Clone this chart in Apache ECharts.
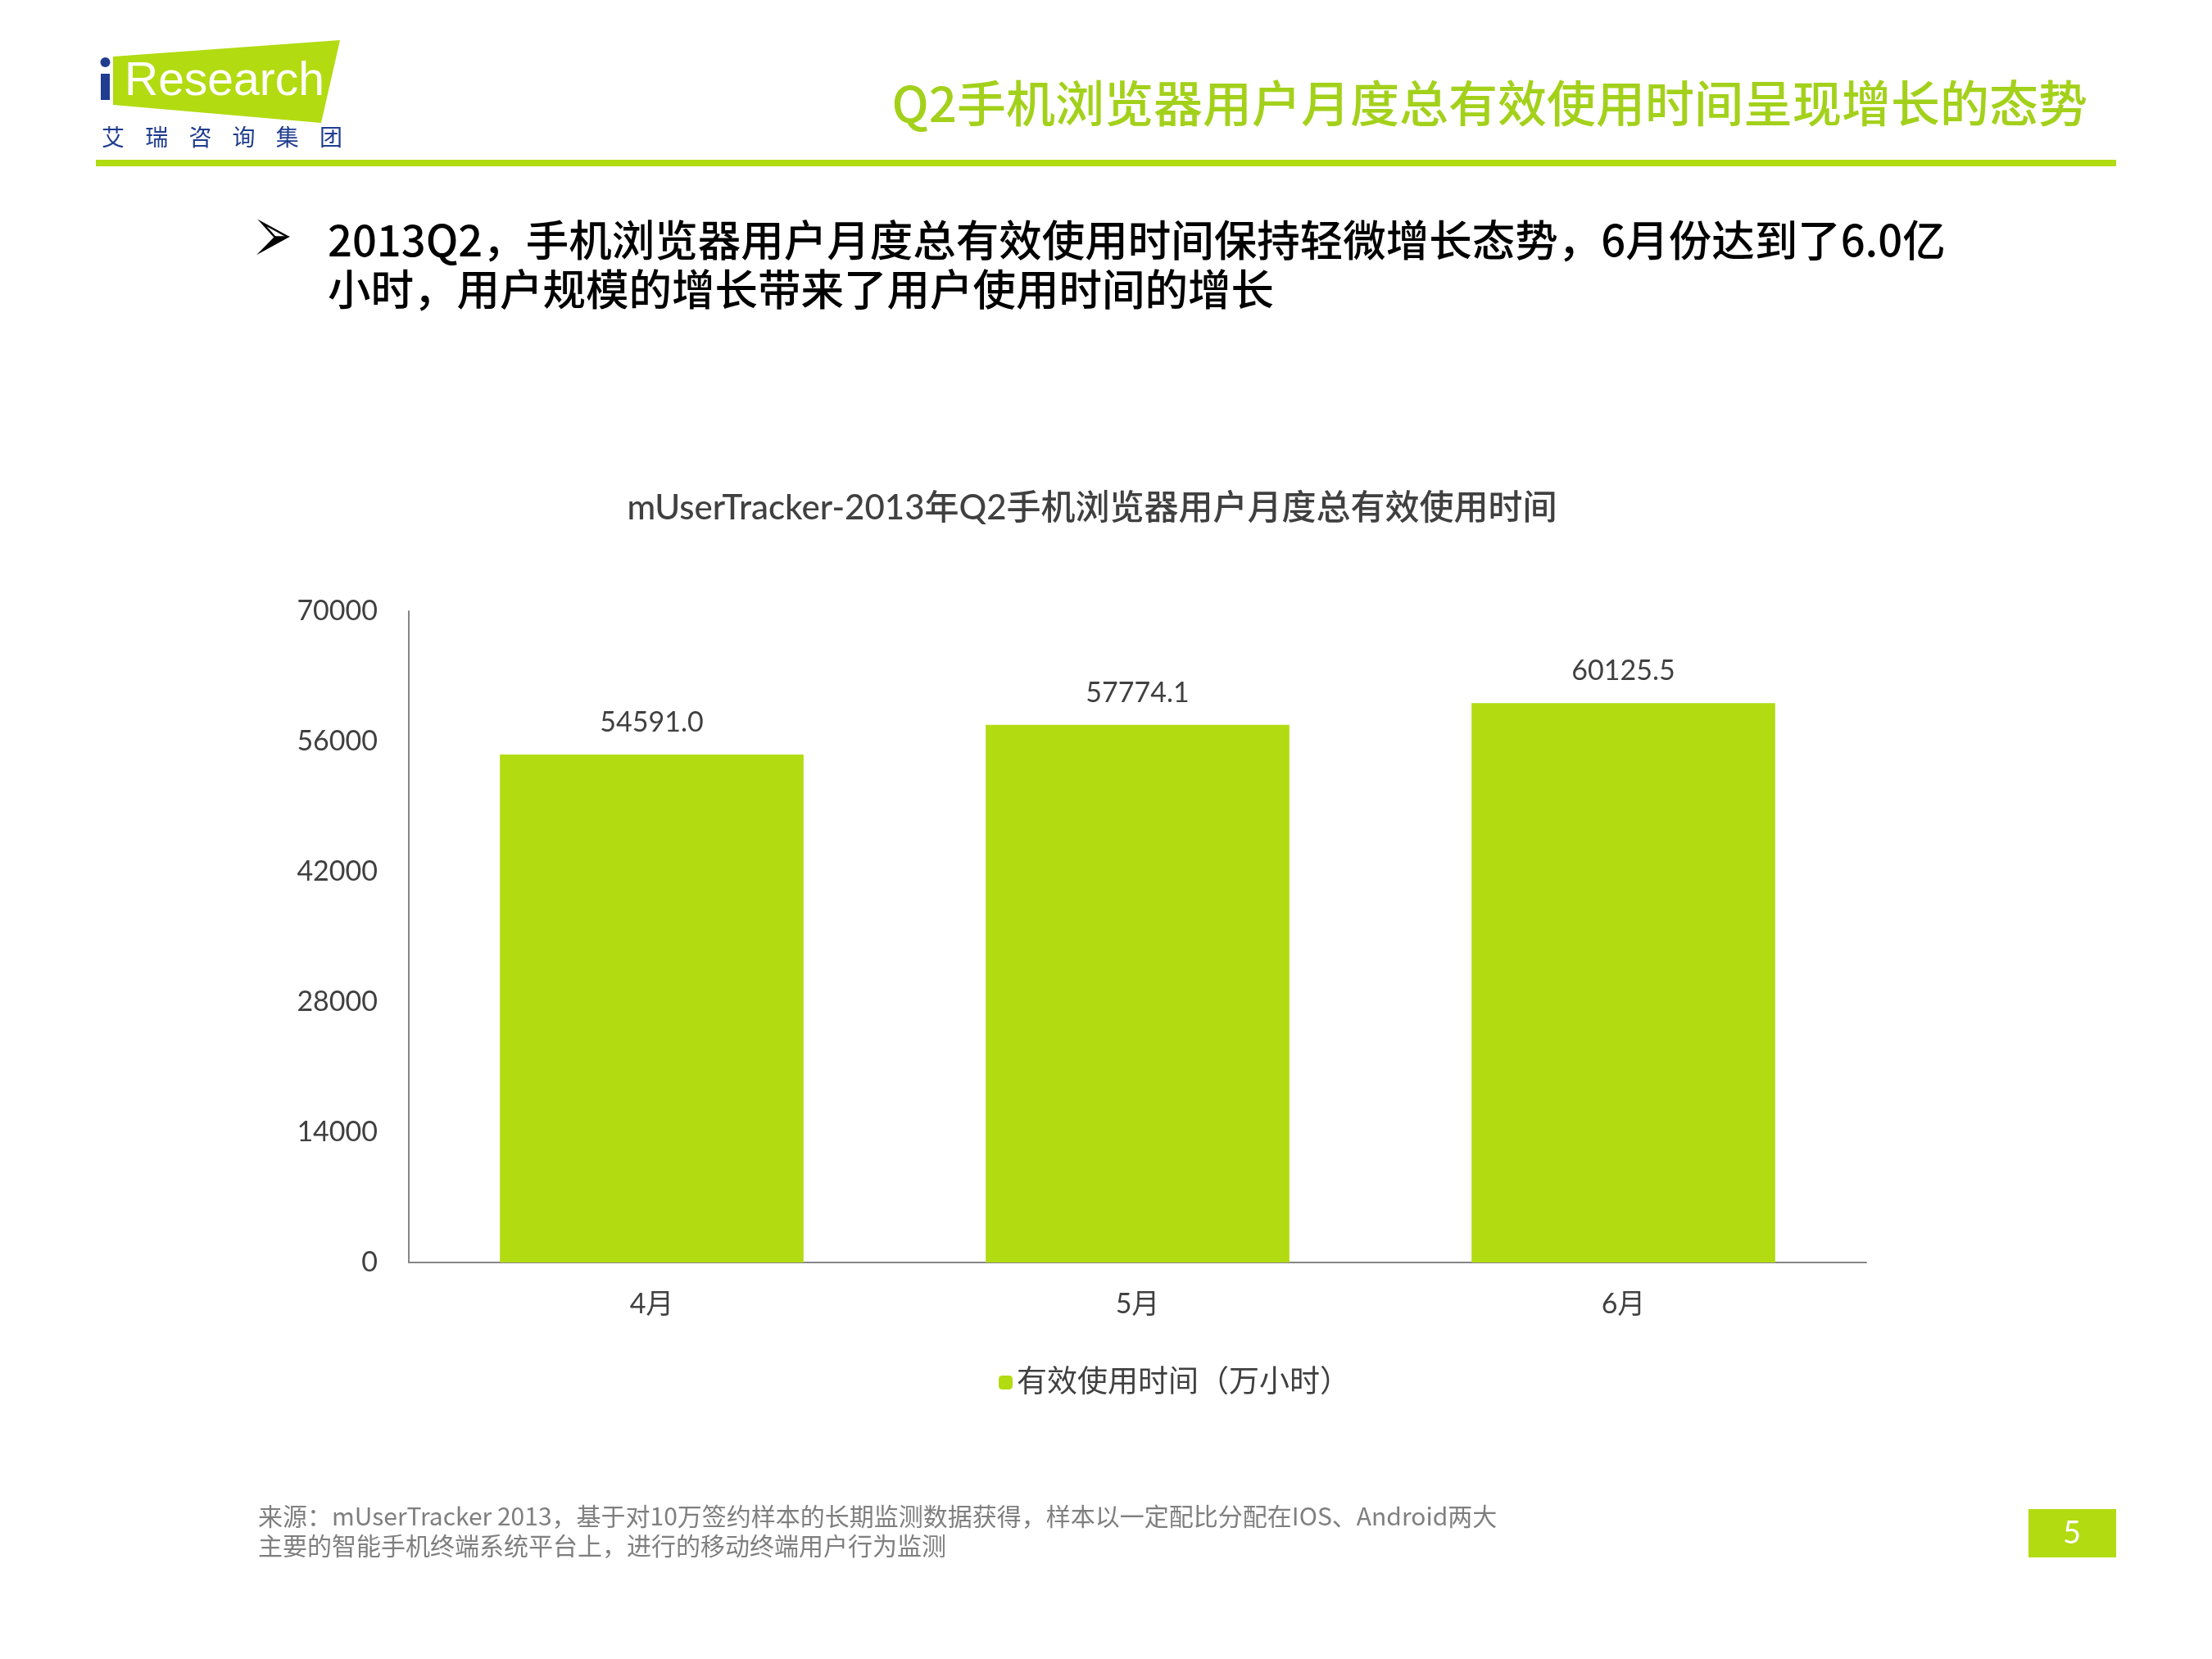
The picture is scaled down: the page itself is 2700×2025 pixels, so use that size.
<!DOCTYPE html>
<html><head><meta charset="utf-8">
<style>html,body{margin:0;padding:0;background:#fff}#c{width:2700px;height:2025px}</style>
<script src="https://cdn.jsdelivr.net/npm/echarts@6/dist/echarts.min.js"></script>
</head><body><div id="c"></div>
<script>
const categories = ['4月', '5月', '6月'];
const seriesName = '有效使用时间（万小时）';
const values = [54591.0, 57774.1, 60125.5];
const yTicks = [0, 14000, 28000, 42000, 56000, 70000];

const FONT = 'Lato, "Noto Sans CJK SC", sans-serif';
const GREEN = '#B2DB11';
const chart = echarts.init(document.getElementById('c'));
const logoChars = ['艾','瑞','咨','询','集','团'];
const graphics = [
  {type:'polygon', shape:{points:[[138,69],[415,49],[392,150],[138,128]]}, style:{fill:GREEN}},
  {type:'rect', shape:{x:123,y:90,width:11,height:32}, style:{fill:'#1F3C8F'}},
  {type:'circle', shape:{cx:128.5,cy:76,r:6}, style:{fill:'#1F3C8F'}},
  {type:'text', x:152, y:100, style:{text:'Research', fill:'#fff', font:'57px "Liberation Sans", sans-serif', textVerticalAlign:'middle', textAlign:'left'}},
  {type:'text', x:2548, y:126, style:{text:'Q2手机浏览器用户月度总有效使用时间呈现增长的态势', fill:'#A3D11B', font:'500 60px "Noto Sans CJK SC", sans-serif', textAlign:'right', textVerticalAlign:'middle'}},
  {type:'rect', shape:{x:117,y:195,width:2466,height:8}, style:{fill:GREEN}},
  {type:'polygon', shape:{points:[[320,272],[351,289],[320,306],[336,290]]}, style:{fill:'#fff', stroke:'#000', lineWidth:2.5, lineJoin:'miter'}},
  {type:'polygon', shape:{points:[[336,289],[351,289],[320,306]]}, style:{fill:'#000', stroke:'#000', lineWidth:1.5}},
  {type:'text', x:400, y:293, style:{text:'2013Q2，手机浏览器用户月度总有效使用时间保持轻微增长态势，6月份达到了6.0亿', fill:'#000', font:'500 52.5px "Noto Sans CJK SC", sans-serif', textAlign:'left', textVerticalAlign:'middle'}},
  {type:'text', x:400, y:353, style:{text:'小时，用户规模的增长带来了用户使用时间的增长', fill:'#000', font:'500 52.5px "Noto Sans CJK SC", sans-serif', textAlign:'left', textVerticalAlign:'middle'}},
  {type:'text', x:315, y:1851, style:{text:'来源：mUserTracker 2013，基于对10万签约样本的长期监测数据获得，样本以一定配比分配在IOS、Android两大', fill:'#7F7F7F', font:'30px "Noto Sans CJK SC", sans-serif', textAlign:'left', textVerticalAlign:'middle'}},
  {type:'text', x:315, y:1887, style:{text:'主要的智能手机终端系统平台上，进行的移动终端用户行为监测', fill:'#7F7F7F', font:'30px "Noto Sans CJK SC", sans-serif', textAlign:'left', textVerticalAlign:'middle'}},
  {type:'rect', shape:{x:2476,y:1842,width:107,height:59}, style:{fill:GREEN}},
  {type:'text', x:2529, y:1872, style:{text:'5', fill:'#fff', font:'38px Lato, sans-serif', textAlign:'center', textVerticalAlign:'middle'}}
];
logoChars.forEach((ch,i)=>graphics.push({type:'text', x:138+i*53.2, y:167, style:{text:ch, fill:'#1F3C8F', font:'28px "Noto Sans CJK SC", sans-serif', textAlign:'center', textVerticalAlign:'middle'}}));

chart.setOption({
  backgroundColor:'#fff',
  animation:false,
  title:{text:'mUserTracker-2013年Q2手机浏览器用户月度总有效使用时间', left:1328, top:615, textAlign:'center', textVerticalAlign:'middle',
    textStyle:{fontFamily:FONT, fontSize:42, fontWeight:500, color:'#404040'}},
  legend:{data:[seriesName], left:1214, top:1664, itemWidth:17, itemHeight:17, itemGap:10,
    textStyle:{fontFamily:FONT, fontSize:37, color:'#404040'}},
  grid:{left:499, right:422, top:746, bottom:484},
  xAxis:{type:'category', data:categories,
    axisLine:{lineStyle:{color:'#868686', width:2}}, axisTick:{show:false},
    axisLabel:{fontFamily:FONT, fontSize:34, color:'#404040', margin:34}},
  yAxis:{type:'value', min:yTicks[0], max:yTicks[yTicks.length-1], interval:yTicks[1]-yTicks[0],
    axisLine:{show:true, lineStyle:{color:'#868686', width:2}}, axisTick:{show:false}, splitLine:{show:false},
    axisLabel:{fontFamily:FONT, fontSize:34, color:'#404040', margin:38, formatter:v=>String(v)}},
  series:[{name:seriesName, type:'bar', data:values, barCategoryGap:'37.5%', itemStyle:{color:GREEN},
    label:{show:true, position:'top', distance:22, fontFamily:FONT, fontSize:34, color:'#404040', formatter:p=>p.value.toFixed(1)}}],
  graphic:graphics
});
</script></body></html>
